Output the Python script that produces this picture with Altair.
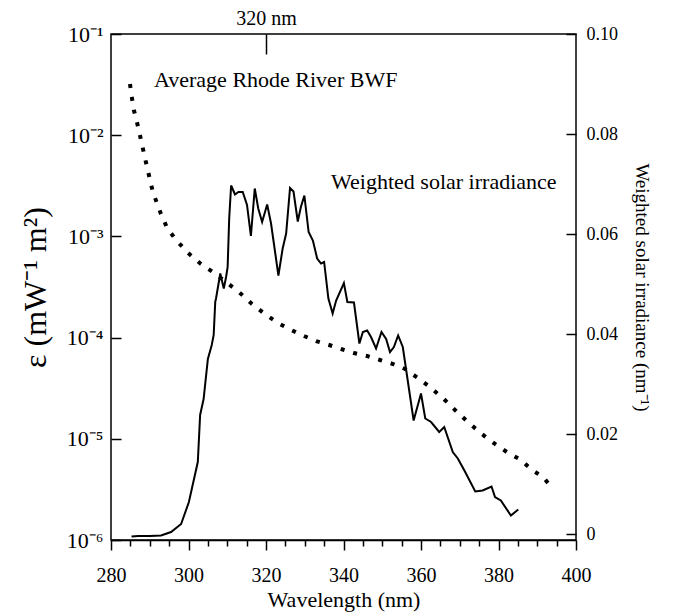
import altair as alt
import pandas as pd

# Average Rhode River BWF (left, log axis)
bwf_wavelength = [284.9, 285.4, 285.9, 287.0, 289.0, 290.8, 292.9, 294.5, 296.8, 299.9,
                  303.2, 306.3, 309.7, 313.0, 316.4, 319.7, 323.1, 326.5, 329.8, 332.9,
                  336.3, 339.4, 342.7, 346.1, 349.4, 352.8, 355.9, 359.2, 362.3, 365.9,
                  369.3, 372.4, 375.7, 379.1, 382.5, 385.8, 388.6, 391.5, 393.8]
bwf_log10 = [-1.494, -1.632, -1.751, -1.919, -2.265, -2.561, -2.779, -2.917, -3.036, -3.164,
             -3.273, -3.352, -3.451, -3.549, -3.668, -3.767, -3.856, -3.925, -3.984, -4.034,
             -4.073, -4.113, -4.152, -4.182, -4.221, -4.261, -4.310, -4.399, -4.488, -4.607,
             -4.735, -4.844, -4.953, -5.051, -5.140, -5.209, -5.308, -5.377, -5.486]

# Weighted solar irradiance (right, linear axis)
irr_wavelength = [285.3, 287.0, 290.0, 292.9, 295.5, 298.1, 300.1, 302.4, 303.0, 303.9,
                  305.0, 306.0, 306.5, 306.9, 307.1, 308.2, 309.1, 309.7, 310.1, 310.5,
                  311.0, 312.0, 312.9, 314.0, 315.1, 316.1, 317.1, 318.0, 319.0, 320.3,
                  321.3, 323.2, 324.3, 325.2, 326.2, 327.1, 328.2, 329.0, 329.9, 331.0,
                  332.1, 333.2, 334.2, 335.0, 336.1, 337.2, 338.1, 340.1, 341.0, 342.7,
                  344.1, 345.0, 346.1, 347.1, 348.4, 349.8, 351.0, 352.0, 353.0, 354.1,
                  355.3, 358.1, 360.0, 361.1, 362.6, 364.7, 366.0, 368.2, 369.5, 371.2,
                  374.0, 375.9, 378.2, 379.1, 380.6, 383.2, 385.1]
irr_value = [-0.0005, -0.0004, -0.0004, -0.0003, 0.0004, 0.0020, 0.0064, 0.0144, 0.0238, 0.0270,
             0.0350, 0.0378, 0.0398, 0.0464, 0.0471, 0.0521, 0.0491, 0.0514, 0.0534, 0.0631,
             0.0697, 0.0679, 0.0684, 0.0684, 0.0658, 0.0596, 0.0691, 0.0651, 0.0624, 0.0659,
             0.0621, 0.0517, 0.0571, 0.0601, 0.0692, 0.0685, 0.0625, 0.0654, 0.0677, 0.0604,
             0.0587, 0.0551, 0.0541, 0.0544, 0.0471, 0.0441, 0.0467, 0.0502, 0.0464, 0.0463,
             0.0381, 0.0404, 0.0407, 0.0394, 0.0371, 0.0404, 0.0390, 0.0364, 0.0374, 0.0397,
             0.0374, 0.0227, 0.0281, 0.0231, 0.0224, 0.0204, 0.0214, 0.0164, 0.0151, 0.0127,
             0.0085, 0.0087, 0.0095, 0.0074, 0.0067, 0.0037, 0.0049]

# Annotations (wavelength, right-axis value)
note_text = ["Average Rhode River BWF", "Weighted solar irradiance"]
note_wavelength = [291.1, 336.8]
note_value = [0.0908, 0.0704]

x_ticks = list(range(280, 401, 5))
left_ticks = [1e-6, 1e-5, 1e-4, 1e-3, 1e-2, 1e-1]
left_labels = ["10\u207b\u2076", "10\u207b\u2075", "10\u207b\u2074", "10\u207b\u00b3", "10\u207b\u00b2", "10\u207b\u00b9"]
right_ticks = [0, 0.02, 0.04, 0.06, 0.08, 0.10]
right_labels = ["0", "0.02", "0.04", "0.06", "0.08", "0.10"]
top_tick = [320]
top_label = "320 nm"

FONT = "Liberation Serif"

bwf = pd.DataFrame({"wl": bwf_wavelength, "eps": [10 ** v for v in bwf_log10]})
irr = pd.DataFrame({"wl": irr_wavelength, "val": irr_value})
notes = pd.DataFrame({"wl": note_wavelength, "val": note_value, "txt": note_text})

left_expr = ""
for t, lab in zip(left_ticks, left_labels):
    left_expr += f"datum.value < {t * 2} ? '{lab}' : "
left_expr += "''"
right_expr = ""
for t, lab in zip(right_ticks, right_labels):
    right_expr += f"datum.value < {t + 0.01} ? '{lab}' : "
right_expr += "''"

xscale = alt.Scale(domain=[280, 400], nice=False, zero=False)
rscale = alt.Scale(domain=[-0.0012, 0.10], nice=False, zero=False)

bottom_axis = alt.Axis(
    values=x_ticks, orient="bottom", title="Wavelength (nm)",
    labelExpr="datum.value % 20 == 0 ? datum.label : ''",
    tickSize={"condition": {"test": "datum.value % 20 == 0", "value": 10}, "value": 6},
    labelPadding=15, labelFlush=False, grid=False, domain=True, domainColor="black",
    domainWidth=1.5, tickColor="black", tickWidth=1.5, labelFont=FONT, labelFontSize=20,
    labelColor="black", titleFont=FONT, titleFontSize=22, titleFontWeight="normal",
    titleColor="black", titlePadding=4,
)
top_axis = alt.Axis(
    values=top_tick, orient="top", title=None, labelExpr=f"'{top_label}'",
    tickSize=20, offset=-20, domain=False, grid=False, labelPadding=6, labelFlush=False,
    tickColor="black", tickWidth=1.5, labelFont=FONT, labelFontSize=20, labelColor="black",
)

line_bwf = alt.Chart(bwf).mark_line(
    color="black", strokeWidth=4, strokeDash=[4, 9], strokeCap="butt"
).encode(
    x=alt.X("wl:Q", scale=xscale, axis=bottom_axis),
    y=alt.Y("eps:Q", scale=alt.Scale(type="log", domain=[1e-6, 1e-1], nice=False),
            axis=alt.Axis(values=left_ticks, labelExpr=left_expr, orient="left",
                          title="\u03b5 (mW\u207b\u00b9 m\u00b2)", offset=-10, tickSize=10,
                          domain=False, grid=False, labelPadding=8, labelFlush=False,
                          tickColor="black", tickWidth=1.5, labelFont=FONT, labelFontSize=22,
                          labelColor="black", titleFont=FONT, titleFontSize=32,
                          titleFontWeight="normal", titleColor="black", titlePadding=14)),
)

line_irr = alt.Chart(irr).mark_line(color="black", strokeWidth=2).encode(
    x=alt.X("wl:Q", scale=xscale, axis=top_axis),
    y=alt.Y("val:Q", scale=rscale,
            axis=alt.Axis(values=right_ticks, labelExpr=right_expr, orient="right",
                          title="Weighted solar irradiance (nm\u207b\u00b9)", offset=-10,
                          tickSize=10, domain=False, grid=False, labelPadding=10,
                          labelFlush=False, tickColor="black", tickWidth=1.5, labelFont=FONT,
                          labelFontSize=18, labelColor="black", titleFont=FONT,
                          titleFontSize=19, titleFontWeight="normal", titleColor="black",
                          titlePadding=14)),
)

text = alt.Chart(notes).mark_text(
    align="left", baseline="middle", font=FONT, fontSize=22, color="black"
).encode(
    x=alt.X("wl:Q", scale=xscale, axis=None),
    y=alt.Y("val:Q", scale=rscale, axis=None),
    text="txt:N",
)

chart = alt.layer(line_bwf, line_irr, text).resolve_scale(
    y="independent"
).resolve_axis(x="independent").properties(
    width=465, height=506,
    padding={"left": 11, "top": 0, "right": 5, "bottom": 5},
).configure(background="white").configure_view(stroke="black", strokeWidth=1.5)

chart.save("out.html", embed_options={"renderer": "svg", "actions": False})
